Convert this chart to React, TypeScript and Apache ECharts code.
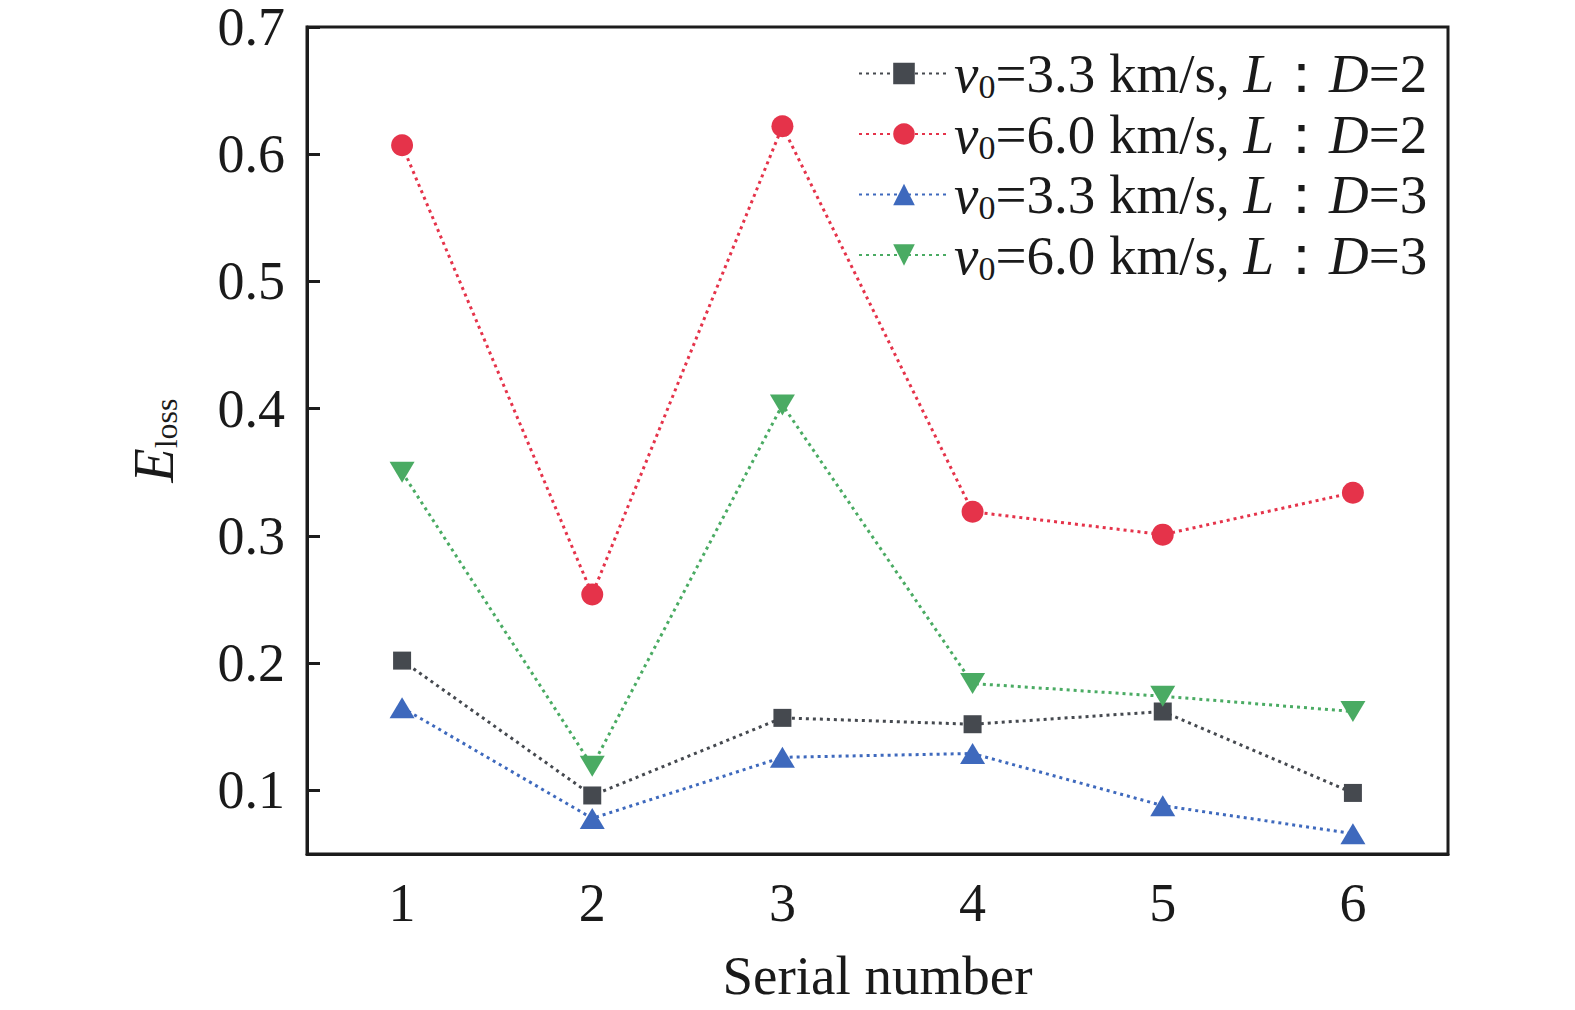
import React, { useEffect, useRef } from 'react';
import * as echarts from 'echarts';

const serials = ['1', '2', '3', '4', '5', '6'];
const yTicks = [0.1, 0.2, 0.3, 0.4, 0.5, 0.6, 0.7];

const v33LD2 = [0.202, 0.096, 0.157, 0.152, 0.162, 0.098];
const v60LD2 = [0.607, 0.254, 0.622, 0.319, 0.301, 0.334];
const v33LD3 = [0.165, 0.078, 0.126, 0.129, 0.088, 0.066];
const v60LD3 = [0.350, 0.119, 0.403, 0.184, 0.174, 0.162];

const seriesNames = ['a', 'b', 'c', 'd'];
const legendLabels: Record<string, string> = {
  a: '{i|v}{s|0}{n|=3.3 km/s, }{i|L}{n|：}{i|D}{n|=2}',
  b: '{i|v}{s|0}{n|=6.0 km/s, }{i|L}{n|：}{i|D}{n|=2}',
  c: '{i|v}{s|0}{n|=3.3 km/s, }{i|L}{n|：}{i|D}{n|=3}',
  d: '{i|v}{s|0}{n|=6.0 km/s, }{i|L}{n|：}{i|D}{n|=3}',
};

const SERIF = '"Liberation Serif", "Times New Roman", serif';
const AXIS_COLOR = '#1c1c1c';
const TEXT_COLOR = '#1a1a1a';

const App: React.FC = () => {
  const chartRef = useRef<HTMLDivElement>(null);

  useEffect(() => {
    document.body.style.margin = '0';
    if (!chartRef.current) return;
    const chart = echarts.init(chartRef.current, null, { renderer: 'svg' });

    const dotted = (color: string) => ({
      color,
      width: 3,
      type: [3, 4] as number[],
    });

    const makeSeries = (name: string, data: number[], color: string, symbol: string, size: number | number[]) => ({
      name,
      type: 'line',
      data,
      symbol,
      symbolSize: size,
      lineStyle: dotted(color),
      itemStyle: { color },
      z: 3,
    });

    const option = {
      animation: false,
      backgroundColor: '#ffffff',
      grid: {
        left: 307,
        right: 127,
        top: 27,
        bottom: 156,
        show: true,
        borderColor: AXIS_COLOR,
        borderWidth: 3,
      },
      legend: {
        orient: 'vertical',
        left: 858,
        top: 46,
        padding: 0,
        itemGap: 3,
        itemWidth: 90,
        itemHeight: 27,
        data: seriesNames,
        formatter: (name: string) => legendLabels[name],
        textStyle: {
          fontFamily: SERIF,
          color: TEXT_COLOR,
          rich: {
            n: { fontFamily: SERIF, fontSize: 55, lineHeight: 60, color: TEXT_COLOR },
            i: { fontFamily: SERIF, fontSize: 55, lineHeight: 60, fontStyle: 'italic', color: TEXT_COLOR },
            s: { fontFamily: SERIF, fontSize: 34, lineHeight: 26, verticalAlign: 'bottom', color: TEXT_COLOR },
          },
        },
      },
      xAxis: {
        type: 'category',
        data: serials,
        boundaryGap: true,
        name: 'Serial number',
        nameLocation: 'middle',
        nameGap: 94,
        nameTextStyle: { fontFamily: SERIF, fontSize: 55, color: TEXT_COLOR },
        axisLine: { lineStyle: { color: AXIS_COLOR, width: 3 } },
        axisTick: { inside: true, alignWithLabel: true, length: 13, lineStyle: { color: AXIS_COLOR, width: 3 } },
        axisLabel: { margin: 22, fontFamily: SERIF, fontSize: 54, color: TEXT_COLOR },
        splitLine: { show: false },
      },
      yAxis: {
        type: 'value',
        min: 0.05,
        max: 0.7,
        name: '{e|E}{s|loss}',
        nameLocation: 'middle',
        nameRotate: 90,
        nameGap: 125,
        nameTextStyle: {
          fontFamily: SERIF,
          color: TEXT_COLOR,
          rich: {
            e: { fontFamily: SERIF, fontSize: 56, lineHeight: 56, fontStyle: 'italic', color: TEXT_COLOR },
            s: { fontFamily: SERIF, fontSize: 32, lineHeight: 20, verticalAlign: 'bottom', color: TEXT_COLOR },
          },
        },
        axisLine: { show: true, lineStyle: { color: AXIS_COLOR, width: 3 } },
        axisTick: {
          show: true,
          inside: true,
          length: 13,
          customValues: yTicks,
          lineStyle: { color: AXIS_COLOR, width: 3 },
        },
        axisLabel: {
          margin: 22,
          customValues: yTicks,
          fontFamily: SERIF,
          fontSize: 54,
          color: TEXT_COLOR,
          formatter: (v: number) => v.toFixed(1),
        },
        splitLine: { show: false },
      },
      series: [
        makeSeries('a', v33LD2, '#45494f', 'rect', 18),
        makeSeries('b', v60LD2, '#e5334a', 'circle', 22),
        makeSeries('c', v33LD3, '#3e69bd', 'triangle', [25, 21]),
        makeSeries('d', v60LD3, '#4aab63', 'path://M0,0 L10,0 L5,8.4 Z', [25, 21]),
      ],
    };

    chart.setOption(option);
    return () => {
      chart.dispose();
    };
  }, []);

  return <div ref={chartRef} style={{ width: '1575px', height: '1010px' }} />;
};

export default App;
